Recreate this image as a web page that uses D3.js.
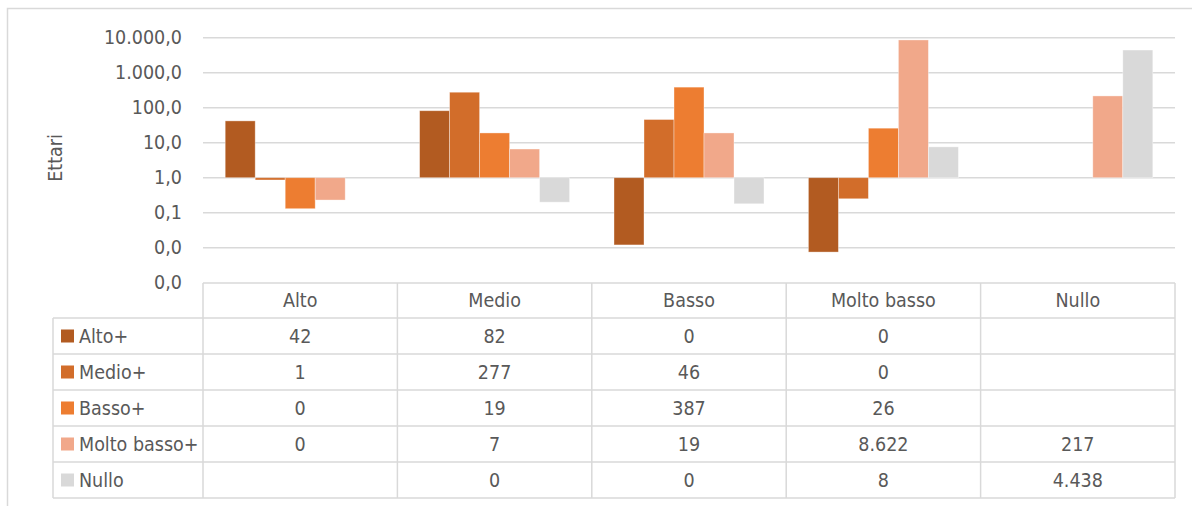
<!DOCTYPE html>
<html>
<head>
<meta charset="utf-8">
<script src="https://cdn.jsdelivr.net/npm/d3@7"></script>
<style>
  body { margin: 0; background: #fff; }
  text { font-family: "DejaVu Sans Condensed", "Liberation Sans Narrow", sans-serif; fill: #595959; }
</style>
</head>
<body>
<svg id="chart" width="1192" height="506"></svg>
<script>
// categories (columns of the data table)
var categories = ["Alto", "Medio", "Basso", "Molto basso", "Nullo"];
// series (rows of the data table / legend)
var seriesNames = ["Alto+", "Medio+", "Basso+", "Molto basso+", "Nullo"];
var seriesColors = ["#B25B21", "#D26D2A", "#ED7D31", "#F1A88A", "#D9D9D9"];
// values per series, one per category (null = empty cell)
var altoPlus = [42, 82, 0.012, 0.0075, null];
var medioPlus = [0.86, 277, 46, 0.25, null];
var bassoPlus = [0.13, 19, 387, 26, null];
var moltoBassoPlus = [0.23, 6.6, 19, 8622, 217];
var nullo = [null, 0.2, 0.18, 7.6, 4438];
var yTicks = [10000, 1000, 100, 10, 1, 0.1, 0.01, 0.001];

var seriesValues = [altoPlus, medioPlus, bassoPlus, moltoBassoPlus, nullo];

var it = d3.formatLocale({decimal: ",", thousands: ".", grouping: [3], currency: ["€", ""]});
var fmtTick = it.format(",.1f");
var fmtCell = it.format(",.0f");

var svg = d3.select("#chart");
var plotLeft = 203, plotRight = 1175, plotTop = 37.7, plotBottom = 282.7;
var rowH = 36, tableTop = 283, legendLeft = 53;
var grid = "#D9D9D9";
var fs = 19.5;

// outer chart border (runs off the picture on the right and bottom)
svg.append("rect")
  .attr("x", 7.5).attr("y", 8.5).attr("width", 1300).attr("height", 600)
  .attr("fill", "none").attr("stroke", grid).attr("stroke-width", 1.5);

var x = d3.scaleBand().domain(categories).range([plotLeft, plotRight]);
var xs = d3.scaleBand().domain(seriesNames).range([0, x.bandwidth()]).paddingInner(0).paddingOuter(0.74);
var y = d3.scaleLog().domain([0.001, 10000]).range([plotBottom, plotTop]);

// gridlines
svg.append("g").selectAll("line")
  .data(yTicks.slice(0, -1))
  .enter().append("line")
  .attr("x1", plotLeft).attr("x2", plotRight)
  .attr("y1", d => y(d)).attr("y2", d => y(d))
  .attr("stroke", grid).attr("stroke-width", 1.5);

// y axis labels
var yAxis = svg.append("g")
  .attr("transform", `translate(${plotLeft},0)`)
  .call(d3.axisLeft(y).tickValues(yTicks).tickFormat(fmtTick).tickSize(0).tickPadding(21));
yAxis.select(".domain").remove();
yAxis.selectAll("text")
  .attr("font-family", null).attr("font-size", fs).attr("fill", "#595959");
yAxis.attr("font-family", null).attr("font-size", null);

svg.append("text")
  .attr("transform", "translate(62,158) rotate(-90)")
  .attr("text-anchor", "middle")
  .attr("font-size", fs)
  .text("Ettari");

// bars, anchored at 1 like the log axis crossing
var bars = [];
seriesNames.forEach(function(s, si) {
  categories.forEach(function(c, ci) {
    var v = seriesValues[si][ci];
    if (v != null) bars.push({s: s, c: c, v: v, color: seriesColors[si]});
  });
});
svg.append("g").selectAll("rect")
  .data(bars)
  .enter().append("rect")
  .attr("x", d => x(d.c) + xs(d.s))
  .attr("width", xs.bandwidth())
  .attr("y", d => Math.min(y(d.v), y(1)))
  .attr("height", d => Math.abs(y(d.v) - y(1)))
  .attr("fill", d => d.color)
  .attr("stroke", "#fff").attr("stroke-opacity", 0.45).attr("stroke-width", 0.8);

// data table
var table = svg.append("g");
var rowLines = d3.range(seriesNames.length + 1).map(i => tableTop + 35 + i * rowH);
table.append("line")
  .attr("x1", plotLeft).attr("x2", plotRight).attr("y1", tableTop).attr("y2", tableTop)
  .attr("stroke", grid).attr("stroke-width", 1.5);
table.selectAll(".hl")
  .data(rowLines)
  .enter().append("line")
  .attr("x1", legendLeft).attr("x2", plotRight)
  .attr("y1", d => d).attr("y2", d => d)
  .attr("stroke", grid).attr("stroke-width", 1.5);
var colEdges = categories.map(c => x(c)).concat([plotRight]);
table.selectAll(".vl")
  .data(colEdges)
  .enter().append("line")
  .attr("x1", d => d).attr("x2", d => d)
  .attr("y1", tableTop).attr("y2", rowLines[rowLines.length - 1])
  .attr("stroke", grid).attr("stroke-width", 1.5);
table.append("line")
  .attr("x1", legendLeft).attr("x2", legendLeft)
  .attr("y1", rowLines[0]).attr("y2", rowLines[rowLines.length - 1])
  .attr("stroke", grid).attr("stroke-width", 1.5);

// header
table.selectAll(".hd")
  .data(categories)
  .enter().append("text")
  .attr("x", d => x(d) + x.bandwidth() / 2)
  .attr("y", tableTop + 17.5)
  .attr("dy", "0.35em")
  .attr("text-anchor", "middle")
  .attr("font-size", fs)
  .text(d => d);

// legend rows + values
seriesNames.forEach(function(s, si) {
  var cy = rowLines[si] + rowH / 2;
  table.append("rect")
    .attr("x", 61).attr("y", cy - 6.5).attr("width", 13).attr("height", 13)
    .attr("fill", seriesColors[si]);
  table.append("text")
    .attr("x", 79).attr("y", cy).attr("dy", "0.35em")
    .attr("font-size", fs)
    .text(s);
  categories.forEach(function(c, ci) {
    var v = seriesValues[si][ci];
    if (v == null) return;
    table.append("text")
      .attr("x", x(c) + x.bandwidth() / 2)
      .attr("y", cy).attr("dy", "0.35em")
      .attr("text-anchor", "middle")
      .attr("font-size", fs)
      .text(fmtCell(v));
  });
});
</script>
</body>
</html>
